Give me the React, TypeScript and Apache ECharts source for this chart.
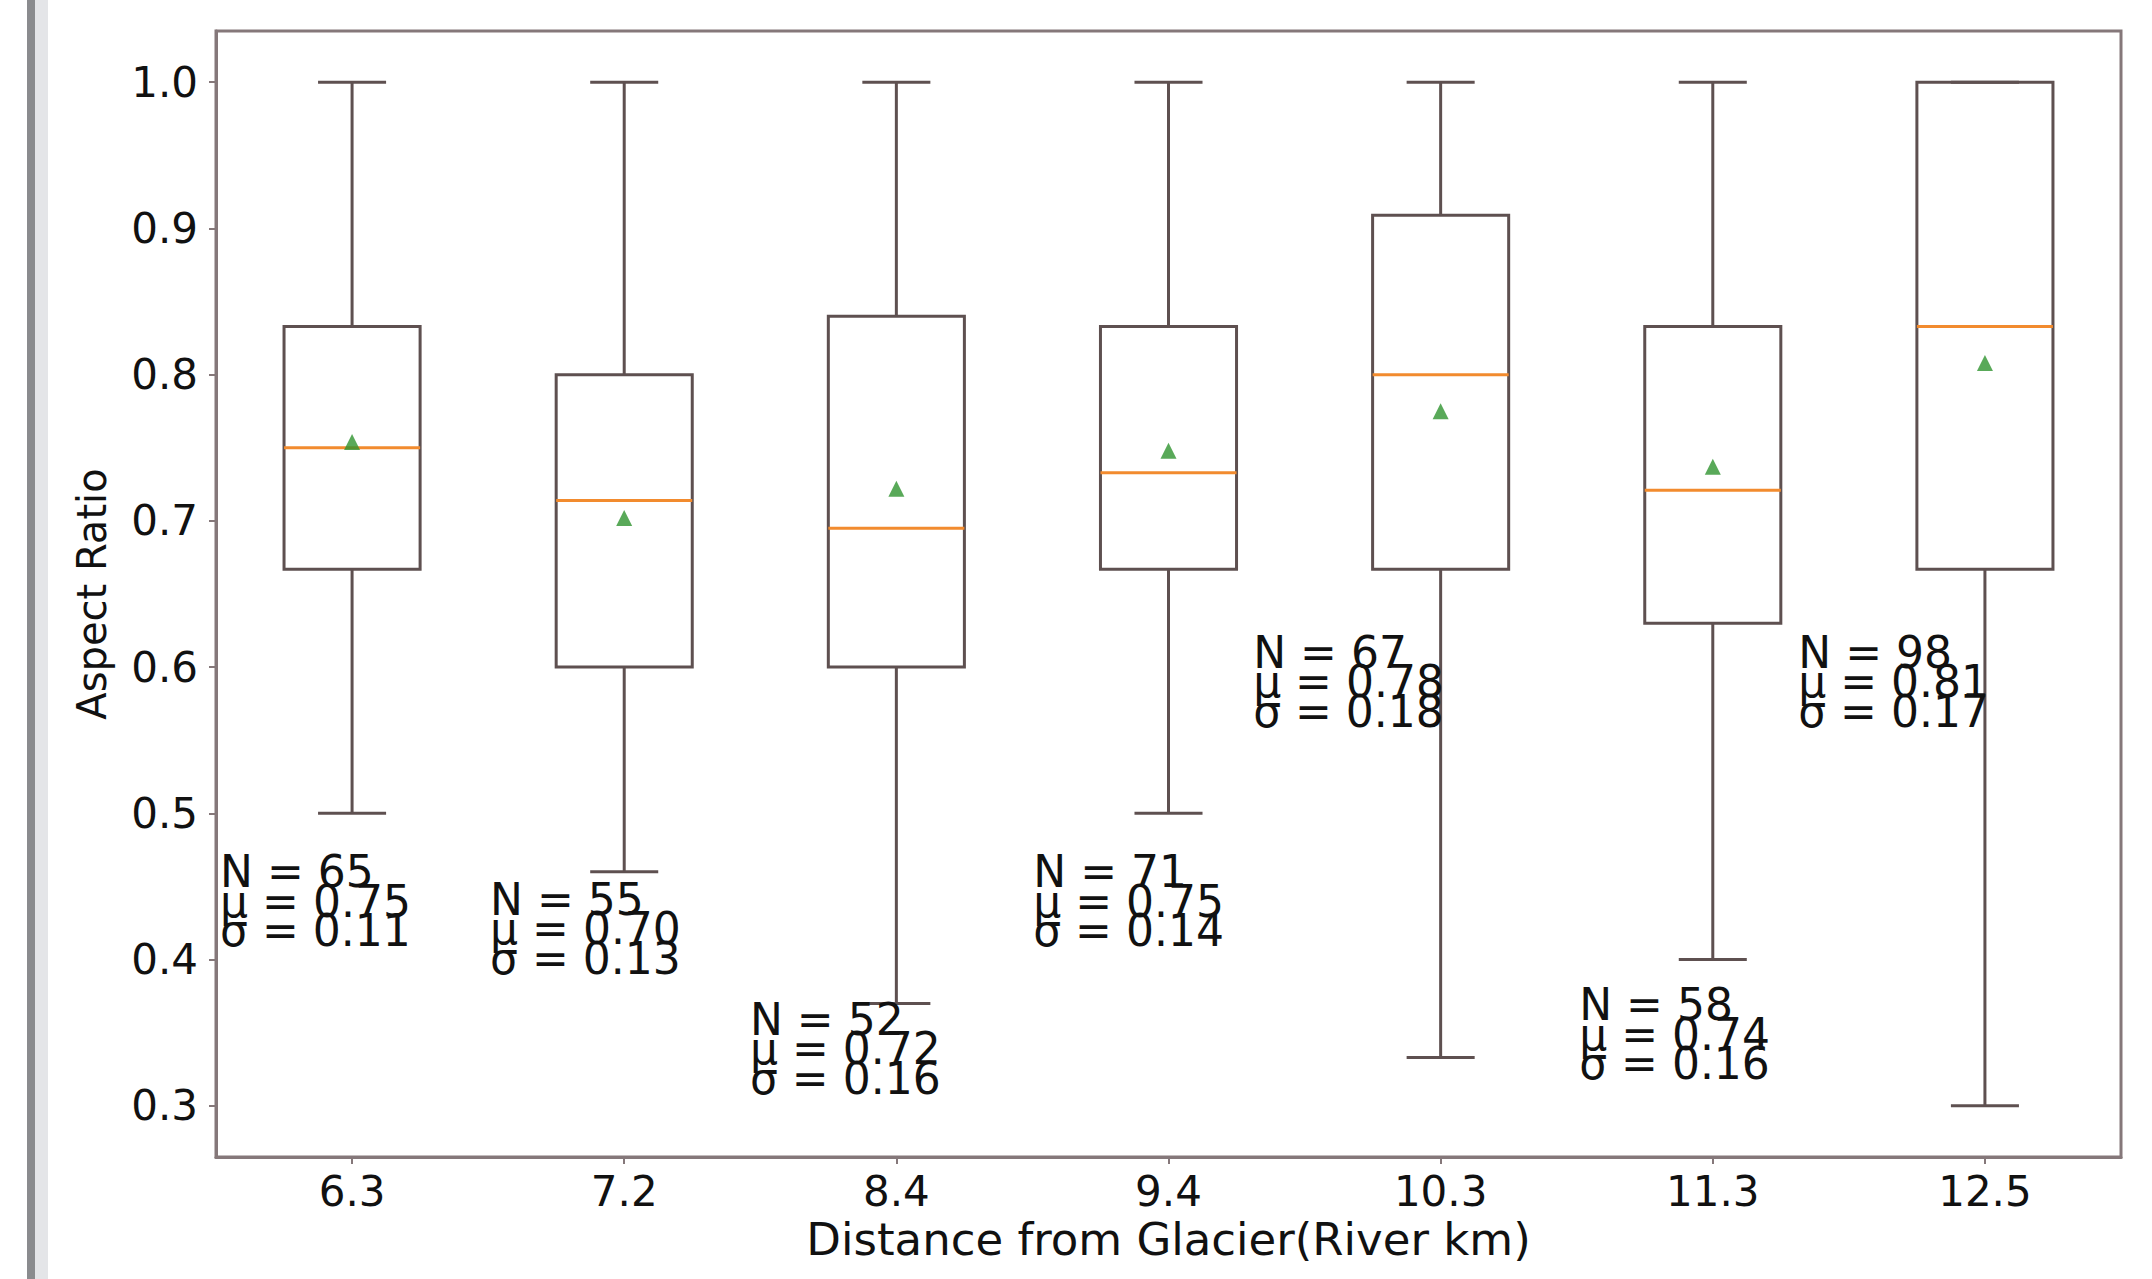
import React, { useEffect, useRef } from 'react';
import * as echarts from 'echarts';

const categories = ['6.3', '7.2', '8.4', '9.4', '10.3', '11.3', '12.5'];
const whiskerLow = [0.5, 0.46, 0.37, 0.5, 0.333, 0.4, 0.3];
const q1 = [0.667, 0.6, 0.6, 0.667, 0.667, 0.63, 0.667];
const median = [0.75, 0.714, 0.695, 0.733, 0.8, 0.721, 0.833];
const q3 = [0.833, 0.8, 0.84, 0.833, 0.909, 0.833, 1.0];
const whiskerHigh = [1.0, 1.0, 1.0, 1.0, 1.0, 1.0, 1.0];
const means = [0.754, 0.702, 0.722, 0.748, 0.775, 0.737, 0.808];
const counts = [65, 55, 52, 71, 67, 58, 98];
const muValues = [0.75, 0.7, 0.72, 0.75, 0.78, 0.74, 0.81];
const sigmaValues = [0.11, 0.13, 0.16, 0.14, 0.18, 0.16, 0.17];
// annotation anchors in data units (x on 0.5..7.5 scale, y in Aspect Ratio)
const noteX = [0.515, 1.507, 2.462, 3.503, 4.311, 5.509, 6.314];
const noteY = [0.44, 0.421, 0.339, 0.44, 0.59, 0.349, 0.59];
const yTicks = [0.3, 0.4, 0.5, 0.6, 0.7, 0.8, 0.9, 1.0];

const FONT = 'DejaVu Sans';
const EDGE = '#5e5050';
const FRAME = '#85787a';

export default function App() {
  const ref = useRef<HTMLDivElement>(null);
  useEffect(() => {
    if (!ref.current) return;
    const chart = echarts.init(ref.current, undefined, { renderer: 'svg' });
    const boxData = categories.map((_, i) => [i, whiskerLow[i], q1[i], median[i], q3[i], whiskerHigh[i]]);
    const noteData = categories.map((_, i) => [noteX[i], noteY[i], i]);
    const option: any = {
      animation: false,
      backgroundColor: '#ffffff',
      graphic: [
        { type: 'rect', left: 27, top: 0, shape: { width: 8, height: 1279 }, style: { fill: '#8a8b8e' }, silent: true },
        { type: 'rect', left: 35, top: 0, shape: { width: 13, height: 1279 }, style: { fill: '#e4e5e8' }, silent: true },
      ],
      grid: {
        left: 216, top: 31, width: 1905, height: 1126,
        show: true, borderColor: FRAME, borderWidth: 3, backgroundColor: 'transparent',
      },
      xAxis: [
        {
          type: 'category', data: categories, boundaryGap: true, gridIndex: 0,
          axisLine: { show: true, lineStyle: { color: FRAME, width: 3 } },
          axisTick: { show: true, alignWithLabel: true, length: 7, lineStyle: { color: FRAME, width: 2 } },
          axisLabel: { fontSize: 42, fontFamily: FONT, color: '#111', margin: 13 },
          splitLine: { show: false },
          name: 'Distance from Glacier(River km)', nameLocation: 'middle', nameGap: 58,
          nameTextStyle: { fontSize: 45, fontFamily: FONT, color: '#111' },
        },
        { type: 'value', min: 0.5, max: 7.5, show: false, gridIndex: 0 },
      ],
      yAxis: {
        type: 'value', min: 0.265, max: 1.035,
        axisLine: { show: true, lineStyle: { color: FRAME, width: 3 } },
        axisTick: { show: true, length: 7, customValues: yTicks, lineStyle: { color: FRAME, width: 2 } },
        axisLabel: {
          fontSize: 42, fontFamily: FONT, color: '#111', margin: 18, customValues: yTicks,
          formatter: (v: number) => v.toFixed(1),
        },
        splitLine: { show: false },
        name: 'Aspect Ratio', nameLocation: 'middle', nameGap: 104,
        nameTextStyle: { fontSize: 40, fontFamily: FONT, color: '#111' },
      },
      series: [
        {
          type: 'custom', xAxisIndex: 0, yAxisIndex: 0,
          encode: { x: 0, y: [1, 2, 3, 4, 5] },
          data: boxData,
          renderItem: (params: any, api: any) => {
            const i = api.value(0);
            const band = api.size([1, 0])[0];
            const half = band * 0.25;
            const capHalf = band * 0.125;
            const pLow = api.coord([i, api.value(1)]);
            const pQ1 = api.coord([i, api.value(2)]);
            const pMed = api.coord([i, api.value(3)]);
            const pQ3 = api.coord([i, api.value(4)]);
            const pHigh = api.coord([i, api.value(5)]);
            const cx = pMed[0];
            const lineStyle = { stroke: EDGE, lineWidth: 3, fill: 'none' };
            return {
              type: 'group',
              children: [
                { type: 'rect', shape: { x: cx - half, y: pQ3[1], width: half * 2, height: pQ1[1] - pQ3[1] }, style: { stroke: EDGE, lineWidth: 3, fill: 'none' } },
                { type: 'line', shape: { x1: cx, y1: pQ3[1], x2: cx, y2: pHigh[1] }, style: lineStyle },
                { type: 'line', shape: { x1: cx, y1: pQ1[1], x2: cx, y2: pLow[1] }, style: lineStyle },
                { type: 'line', shape: { x1: cx - capHalf, y1: pHigh[1], x2: cx + capHalf, y2: pHigh[1] }, style: lineStyle },
                { type: 'line', shape: { x1: cx - capHalf, y1: pLow[1], x2: cx + capHalf, y2: pLow[1] }, style: lineStyle },
                { type: 'line', shape: { x1: cx - half, y1: pMed[1], x2: cx + half, y2: pMed[1] }, style: { stroke: '#f28b2e', lineWidth: 3 } },
              ],
            };
          },
          z: 2,
        },
        {
          type: 'scatter', xAxisIndex: 0, yAxisIndex: 0,
          data: categories.map((_, i) => [i, means[i]]),
          symbol: 'triangle', symbolSize: 16,
          itemStyle: { color: '#2f932f' },
          z: 3,
        },
        {
          type: 'custom', xAxisIndex: 1, yAxisIndex: 0,
          encode: { x: 0, y: 1 },
          data: noteData,
          renderItem: (params: any, api: any) => {
            const k = api.value(2);
            const p = api.coord([api.value(0), api.value(1)]);
            return {
              type: 'text', x: p[0], y: p[1],
              style: {
                text: `N = ${counts[k]}\nμ = ${muValues[k].toFixed(2)}\nσ = ${sigmaValues[k].toFixed(2)}`,
                fontSize: 44, fontFamily: FONT, lineHeight: 29.5, fill: '#111',
                align: 'left', verticalAlign: 'middle',
              },
            };
          },
          z: 4,
        },
      ],
    };
    chart.setOption(option);
    return () => chart.dispose();
  }, []);
  return <div ref={ref} style={{ position: 'absolute', left: 0, top: 0, width: 2152, height: 1279 }} />;
}
